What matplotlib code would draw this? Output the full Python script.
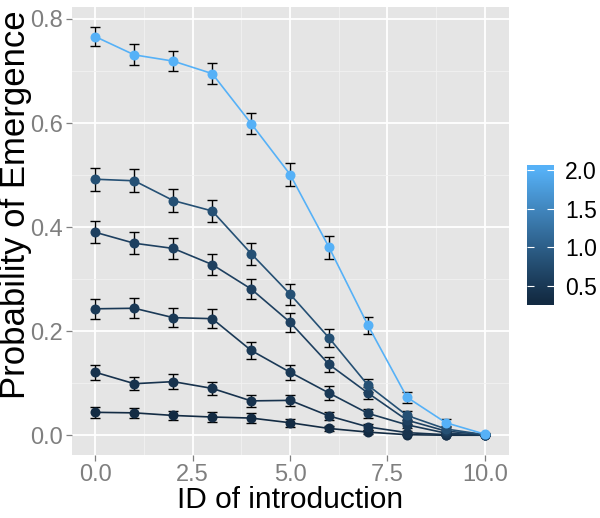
import numpy as np
import matplotlib
matplotlib.use("Agg")
import matplotlib.pyplot as plt
from matplotlib.colors import LinearSegmentedColormap, Normalize

plt.rcParams['font.family'] = ['Liberation Sans', 'DejaVu Sans']

# ID of introduction
ids = [0, 1, 2, 3, 4, 5, 6, 7, 8, 9, 10]

# colour value of each curve
levels = [0.3, 0.4, 0.5, 0.6, 0.8, 2.0]

# probability of emergence, one list per curve (same order as levels)
prob = [
    [0.044, 0.043, 0.038, 0.035, 0.033, 0.024, 0.013, 0.006, 0.001, 0.000, 0.000],
    [0.121, 0.099, 0.103, 0.090, 0.066, 0.067, 0.037, 0.016, 0.005, 0.001, 0.000],
    [0.243, 0.244, 0.226, 0.224, 0.163, 0.121, 0.081, 0.042, 0.020, 0.004, 0.000],
    [0.390, 0.369, 0.359, 0.328, 0.281, 0.217, 0.136, 0.081, 0.029, 0.008, 0.001],
    [0.492, 0.489, 0.451, 0.431, 0.349, 0.271, 0.187, 0.096, 0.038, 0.012, 0.001],
    [0.766, 0.731, 0.719, 0.695, 0.599, 0.501, 0.361, 0.211, 0.073, 0.024, 0.002],
]

# half-width of the error bars
err = [
    [0.010, 0.010, 0.0095, 0.009, 0.009, 0.0075, 0.0055, 0.004, 0.001, 0.000, 0.000],
    [0.0144, 0.013, 0.0138, 0.0128, 0.011, 0.011, 0.0083, 0.006, 0.003, 0.001, 0.000],
    [0.019, 0.019, 0.018, 0.0185, 0.016, 0.0144, 0.013, 0.009, 0.006, 0.003, 0.000],
    [0.0215, 0.0215, 0.021, 0.021, 0.020, 0.018, 0.0147, 0.012, 0.007, 0.004, 0.001],
    [0.022, 0.022, 0.022, 0.022, 0.021, 0.0205, 0.018, 0.013, 0.008, 0.005, 0.001],
    [0.018, 0.020, 0.019, 0.020, 0.021, 0.0215, 0.0215, 0.017, 0.0106, 0.0077, 0.002],
]

xticks = [0.0, 2.5, 5.0, 7.5, 10.0]
yticks = [0.0, 0.2, 0.4, 0.6, 0.8]
cbar_ticks = [0.5, 1.0, 1.5, 2.0]

cmap = LinearSegmentedColormap.from_list(
    'gg', ['#132B43', '#1D3F5E', '#28557B', '#336B99', '#3F82B8', '#4A99D7', '#56B1F7'])
norm = Normalize(vmin=min(levels), vmax=max(levels))

fig = plt.figure(figsize=(6.0, 5.18), dpi=100)
ax = fig.add_axes([72 / 600, 1 - 455 / 518, 437 / 600, 448 / 518])
ax.set_facecolor('#E5E5E5')
for s in ax.spines.values():
    s.set_visible(False)

ax.set_xlim(-0.6, 10.62)
ax.set_ylim(-0.038, 0.823)
ax.set_xticks(xticks)
ax.set_xticklabels(['%.1f' % t for t in xticks])
ax.set_yticks(yticks)
ax.set_yticklabels(['%.1f' % t for t in yticks])
ax.set_xticks([1.25, 3.75, 6.25, 8.75], minor=True)
ax.set_yticks([0.1, 0.3, 0.5, 0.7], minor=True)
ax.grid(which='major', color='white', linewidth=1.3)
ax.grid(which='minor', color='#F2F2F2', linewidth=0.6)
ax.set_axisbelow(True)
ax.tick_params(which='major', length=4.5, width=0.9, color='#7F7F7F',
               labelcolor='#7F7F7F', labelsize=17, pad=2)
ax.tick_params(which='minor', length=0)

for lev, p, e in zip(levels, prob, err):
    c = cmap(norm(lev))
    ax.errorbar(ids, p, yerr=e, fmt='none', ecolor='black', elinewidth=1.0,
                capsize=3.8, capthick=1.0, zorder=2)
    ax.plot(ids, p, color=c, linewidth=1.2, zorder=3)
    ax.plot(ids, p, 'o', color=c, markersize=7.2, markeredgewidth=0, zorder=4)

ax.set_xlabel('ID of introduction', fontsize=21.5, labelpad=0)
ax.set_ylabel('Probability of Emergence', fontsize=25)
ax.yaxis.set_label_coords(-0.092, 0.558)

# colour bar
cax = fig.add_axes([527 / 600, 1 - 305 / 518, 27 / 600, 140 / 518])
lo, hi = 0.254, 2.065
grad = np.linspace(lo, hi, 200).reshape(-1, 1)
cax.imshow(grad, cmap=cmap, norm=norm, origin='lower', aspect='auto',
           extent=[0, 1, lo, hi])
cax.set_xlim(0, 1)
cax.set_ylim(lo, hi)
cax.set_xticks([])
cax.set_yticks(cbar_ticks)
cax.set_yticklabels(['%.1f' % t for t in cbar_ticks])
for s in cax.spines.values():
    s.set_visible(False)
cax.yaxis.tick_right()
cax.tick_params(axis='y', direction='in', length=5, width=0.8, color='white',
                left=True, right=True, labelleft=False, labelright=True,
                labelsize=16.5, labelcolor='black', pad=8)

fig.savefig('out.png', dpi=100)
